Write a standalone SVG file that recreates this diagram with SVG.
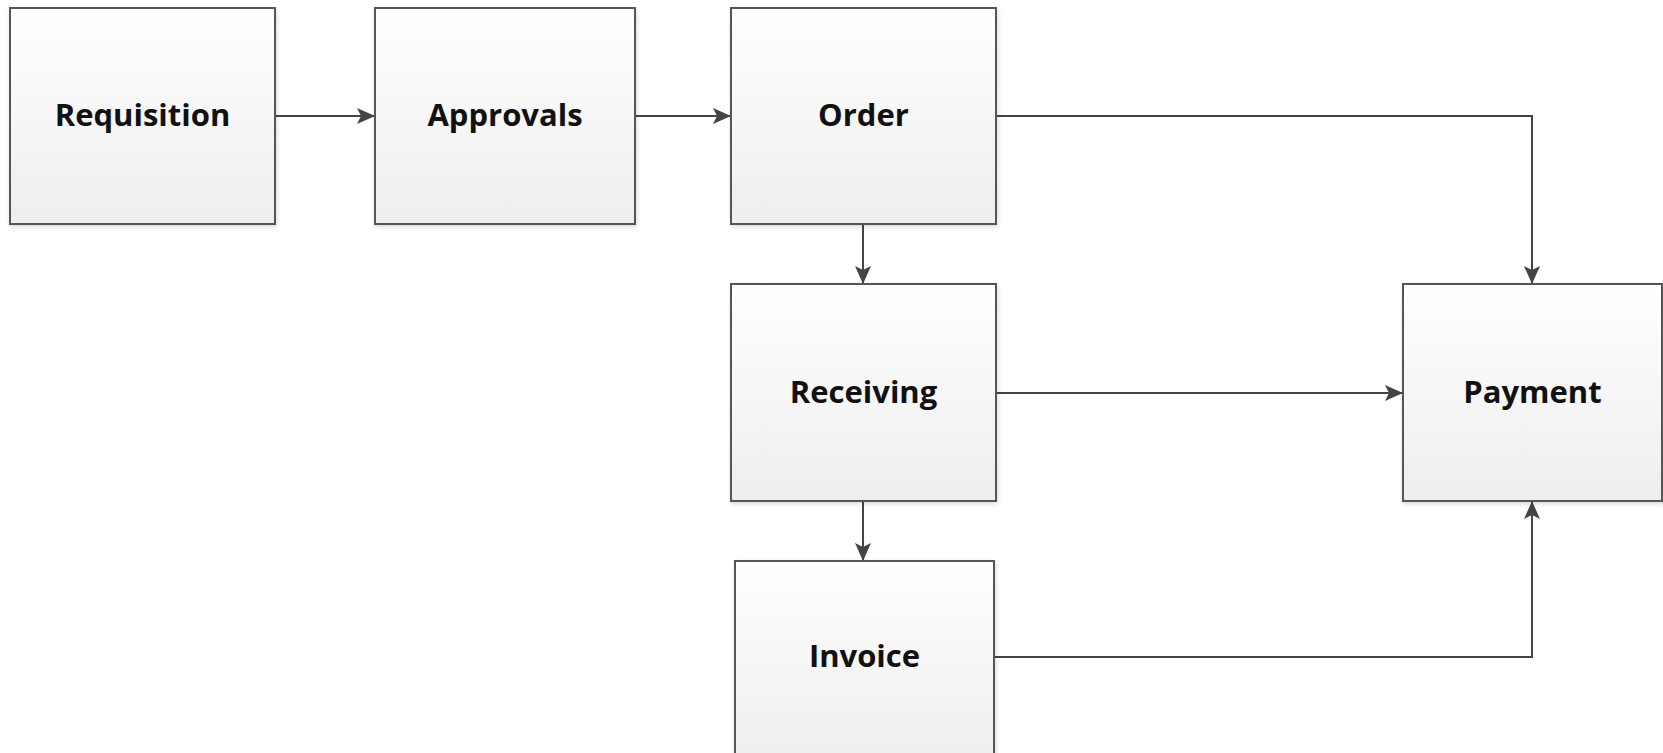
<svg xmlns="http://www.w3.org/2000/svg" width="1663" height="753" viewBox="0 0 1663 753">
<style>
.box{fill:url(#g);stroke:#555;stroke-width:2;filter:url(#sh)}
.lbl{font-family:"Open Sans","Liberation Sans",sans-serif;font-weight:bold;font-size:31px;fill:#111;text-anchor:middle;dominant-baseline:central}
.con{fill:none;stroke:#444;stroke-width:2;marker-end:url(#ah)}
</style>
<defs>
<linearGradient id="g" x1="0" y1="0" x2="0" y2="1">
<stop offset="0" stop-color="#ffffff"/>
<stop offset="1" stop-color="#eeeeee"/>
</linearGradient>
<filter id="sh" x="-5%" y="-5%" width="110%" height="110%">
<feDropShadow dx="1" dy="2" stdDeviation="2" flood-color="#000" flood-opacity="0.15"/>
</filter>
<marker id="ah" markerWidth="18" markerHeight="16" refX="18" refY="8" orient="auto" markerUnits="userSpaceOnUse">
<path d="M0,0 L18,8 L0,16 L4,8 Z" fill="#444"/>
</marker>
</defs>
<g id="connectors">
<path class="con" d="M275,116 H375"/>
<path class="con" d="M635,116 H731"/>
<path class="con" d="M996,116 H1532 V284"/>
<path class="con" d="M863,224 V284"/>
<path class="con" d="M996,393 H1403"/>
<path class="con" d="M863,501 V561"/>
<path class="con" d="M994,657 H1532 V501"/>
</g>
<g id="requisition"><rect class="box" x="10" y="8" width="265" height="216"/><text class="lbl" x="142.5" y="114">Requisition</text></g>
<g id="approvals"><rect class="box" x="375" y="8" width="260" height="216"/><text class="lbl" x="505" y="114">Approvals</text></g>
<g id="order"><rect class="box" x="731" y="8" width="265" height="216"/><text class="lbl" x="863.5" y="114">Order</text></g>
<g id="receiving"><rect class="box" x="731" y="284" width="265" height="217"/><text class="lbl" x="863.5" y="391">Receiving</text></g>
<g id="invoice"><rect class="box" x="735" y="561" width="259" height="200"/><text class="lbl" x="864.5" y="655">Invoice</text></g>
<g id="payment"><rect class="box" x="1403" y="284" width="259" height="217"/><text class="lbl" x="1532.5" y="391">Payment</text></g>
</svg>
